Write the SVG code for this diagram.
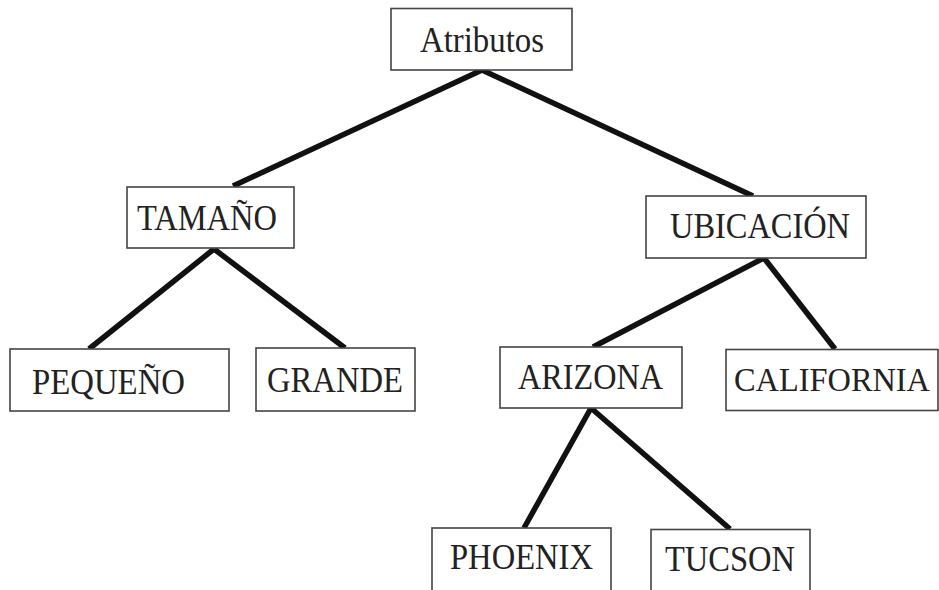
<svg xmlns="http://www.w3.org/2000/svg" width="939" height="590" viewBox="0 0 939 590">
<style>
.box{fill:#fff;stroke:#444;stroke-width:1.6}
.lbl{font-family:"Liberation Serif","Times New Roman",serif;font-size:35px;fill:#222}
.edge{stroke:#111;stroke-width:5.5;stroke-linecap:butt;fill:none}
</style>
<rect width="939" height="590" fill="#fff"/>
<g id="connectors">
<line class="edge" x1="482" y1="70" x2="233" y2="186"/>
<line class="edge" x1="482" y1="70" x2="753" y2="196"/>
<line class="edge" x1="214" y1="249" x2="89" y2="349"/>
<line class="edge" x1="214" y1="249" x2="345" y2="348"/>
<line class="edge" x1="764" y1="258" x2="593" y2="347"/>
<line class="edge" x1="764" y1="258" x2="835" y2="349"/>
<line class="edge" x1="591" y1="408" x2="524" y2="528"/>
<line class="edge" x1="591" y1="408" x2="730" y2="529"/>
</g>
<g id="atributos"><rect class="box" x="391" y="8.5" width="181" height="61.5"/><text class="lbl" x="420" y="52" textLength="124" lengthAdjust="spacingAndGlyphs">Atributos</text></g>
<g id="tamano"><rect class="box" x="127" y="187" width="167" height="61"/><text class="lbl" x="137" y="230" textLength="140" lengthAdjust="spacingAndGlyphs">TAMAÑO</text></g>
<g id="ubicacion"><rect class="box" x="646" y="196" width="220" height="62"/><text class="lbl" x="670" y="238" textLength="180" lengthAdjust="spacingAndGlyphs">UBICACIÓN</text></g>
<g id="pequeno"><rect class="box" x="10" y="349" width="219" height="62"/><text class="lbl" x="32" y="394" textLength="153" lengthAdjust="spacingAndGlyphs">PEQUEÑO</text></g>
<g id="grande"><rect class="box" x="256" y="348" width="159" height="63"/><text class="lbl" x="267" y="392" textLength="136" lengthAdjust="spacingAndGlyphs">GRANDE</text></g>
<g id="arizona"><rect class="box" x="500" y="347" width="182" height="61"/><text class="lbl" x="518" y="388.5" textLength="145" lengthAdjust="spacingAndGlyphs">ARIZONA</text></g>
<g id="california"><rect class="box" x="726" y="349.5" width="212" height="61"/><text class="lbl" x="734" y="391" style="font-size:33px" textLength="196" lengthAdjust="spacingAndGlyphs">CALIFORNIA</text></g>
<g id="phoenix"><rect class="box" x="432" y="528" width="179" height="70"/><text class="lbl" x="450" y="569" textLength="143" lengthAdjust="spacingAndGlyphs">PHOENIX</text></g>
<g id="tucson"><rect class="box" x="651" y="529.5" width="159" height="70"/><text class="lbl" x="665" y="571" textLength="130" lengthAdjust="spacingAndGlyphs">TUCSON</text></g>
</svg>
